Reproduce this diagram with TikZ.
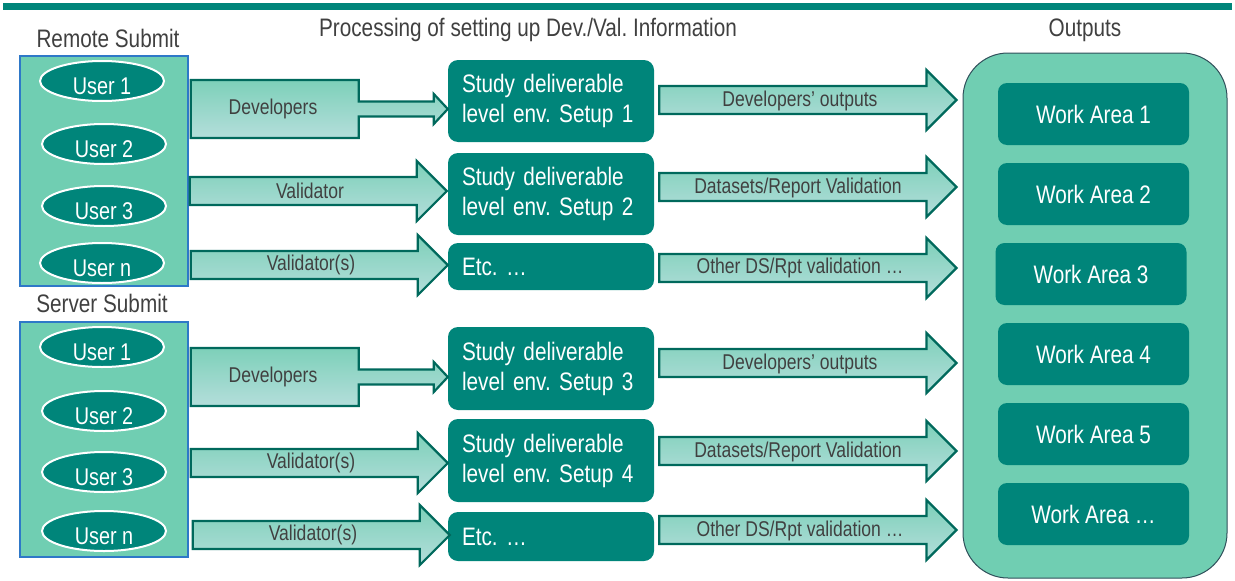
\documentclass[tikz,border=0pt]{standalone}
\usepackage{fontspec}
\setmainfont[FakeStretch=0.82]{Liberation Sans}
\usepackage{tikz}
\usetikzlibrary{positioning,calc,shapes.geometric}
\tikzset{>=latex}
\frenchspacing
\definecolor{teal1}{HTML}{00857A}
\definecolor{mint}{HTML}{70CEB2}
\definecolor{arredge}{HTML}{00695C}
\definecolor{arrtop}{HTML}{7DD0B9}
\definecolor{arrbot}{HTML}{B4DEDB}
\definecolor{txtgray}{HTML}{404040}
\definecolor{userblue}{HTML}{2E78C8}
\definecolor{outedge}{HTML}{2F4F5A}
\tikzset{
  head/.style={text=txtgray,font=\fontsize{25.3}{28}\selectfont},
  user/.style={ellipse,fill=teal1,draw=white,line width=2pt,minimum width=124pt,minimum height=40pt,inner sep=0pt,text height=26pt,text depth=0pt,text=white,font=\fontsize{24.2}{26}\selectfont},
  group/.style={draw=userblue,line width=1.5pt,fill=mint,minimum width=168pt},
  setup/.style={fill=teal1,rounded corners=10pt,text width=178pt,inner xsep=14pt,align=left,text=white,font=\fontsize{25.3}{30}\selectfont},
  area/.style={fill=teal1,rounded corners=9pt,minimum width=191pt,minimum height=62pt,text=white,font=\fontsize{25.3}{28}\selectfont},
  fat/.style={draw=arredge,line width=2.2pt,line join=miter,top color=arrtop,bottom color=arrbot},
  lbl/.style={text=txtgray,font=\fontsize{21.4}{24}\selectfont}
}
% block arrow: from node, to node, row y, start gap, end gap
\newcommand\fatarrow[5]{%
  \path ($(#1.east |- 0,#3)+(#4,0)$) coordinate (fs) ($(#2.west |- 0,#3)+(-#5,0)$) coordinate (ft);
  \draw[fat] ($(fs)+(0,-14)$) -- ($(ft)+(-30,-14)$) -- ($(ft)+(-30,-30)$) -- (ft)
    -- ($(ft)+(-30,30)$) -- ($(ft)+(-30,14)$) -- ($(fs)+(0,14)$) -- cycle;
}
% callout arrow for the developers
\newcommand\devarrow[3]{%
  \path ($(#1.east |- 0,#3)+(2,0)$) coordinate (fs) (#2.west |- 0,#3) coordinate (ft);
  \draw[fat] ($(fs)+(0,-29)$) -- ($(fs)+(168,-29)$) -- ($(fs)+(168,-7.5)$) -- ($(ft)+(-14,-7.5)$)
    -- ($(ft)+(-14,-15)$) -- (ft) -- ($(ft)+(-14,15)$) -- ($(ft)+(-14,7.5)$)
    -- ($(fs)+(168,7.5)$) -- ($(fs)+(168,29)$) -- ($(fs)+(0,29)$) -- cycle;
}
\begin{document}
\begin{tikzpicture}[x=1pt,y=-1pt]
\useasboundingbox (0,0) rectangle (1235,581);
\fill[teal1] (3,3) rectangle (1232,10);
\node[head] (remhd) at (108,38) {Remote Submit};
\node[head] (prochd) at (528,30) {Processing of setting up Dev./Val. Information};
\node[head] (outhd) at (1085,30) {Outputs};
\node[head] (serhd) at (102,303) {Server Submit};
% user groups
\node[group,minimum height=230pt] (remote) at (104,171) {};
\node[group,minimum height=235pt] (server) at (104,439.5) {};
\node[user] (ru1) at (102,81) {User 1};
\node[user] (ru2) at (104,144) {User 2};
\node[user] (ru3) at (104,206) {User 3};
\node[user] (run) at (102,263) {User n};
\node[user] (su1) at (102,347) {User 1};
\node[user] (su2) at (104,411) {User 2};
\node[user] (su3) at (104,472) {User 3};
\node[user] (sun) at (104,531) {User n};
% setups
\node[setup,minimum height=82pt] (s1) at (551,101) {Study deliverable\\level env. Setup 1};
\node[setup,minimum height=82pt] (s2) at (551,194) {Study deliverable\\level env. Setup 2};
\node[setup,minimum height=47pt] (e1) at (551,266.5) {Etc. …};
\node[setup,minimum height=83pt] (s3) at (551,368.5) {Study deliverable\\level env. Setup 3};
\node[setup,minimum height=83pt] (s4) at (551,460.5) {Study deliverable\\level env. Setup 4};
\node[setup,minimum height=49pt] (e2) at (551,536.5) {Etc. …};
% outputs
\node[draw=outedge,line width=1pt,fill=mint,rounded corners=45pt,minimum width=264pt,minimum height=525pt] (out) at (1095,315.5) {};
\node[area] (w1) at (1093.5,114) {Work Area 1};
\node[area] (w2) at (1093.5,194) {Work Area 2};
\node[area] (w3) at (1091,274) {Work Area 3};
\node[area] (w4) at (1093.5,354) {Work Area 4};
\node[area] (w5) at (1093.5,434) {Work Area 5};
\node[area] (w6) at (1093.5,514) {Work Area …};
% arrows into the setups
\devarrow{remote}{s1}{109}
\fatarrow{remote}{s2}{191}{1}{1}
\fatarrow{remote}{e1}{265}{2}{0}
\devarrow{server}{s3}{377}
\fatarrow{server}{s4}{463}{2}{0}
\fatarrow{server}{e2}{535}{4}{-2}
\node[lbl] (l1) at (273,109) {Developers};
\node[lbl] (l2) at (310,191) {Validator};
\node[lbl] (l3) at (311,265) {Validator(s)};
\node[lbl] (l4) at (273,377) {Developers};
\node[lbl] (l5) at (311,463) {Validator(s)};
\node[lbl] (l6) at (313,535) {Validator(s)};
% arrows into the outputs
\fatarrow{s1}{out}{100}{5}{6}
\fatarrow{s2}{out}{187}{5}{6}
\fatarrow{e1}{out}{268}{5}{6}
\fatarrow{s3}{out}{363}{5}{6}
\fatarrow{s4}{out}{451}{5}{6}
\fatarrow{e2}{out}{530}{5}{6}
\node[lbl] (o1) at (800,101) {Developers’ outputs};
\node[lbl] (o2) at (798,188) {Datasets/Report Validation};
\node[lbl] (o3) at (800,268) {Other DS/Rpt validation …};
\node[lbl] (o4) at (800,364) {Developers’ outputs};
\node[lbl] (o5) at (798,452) {Datasets/Report Validation};
\node[lbl] (o6) at (800,531) {Other DS/Rpt validation …};
\end{tikzpicture}
\end{document}
